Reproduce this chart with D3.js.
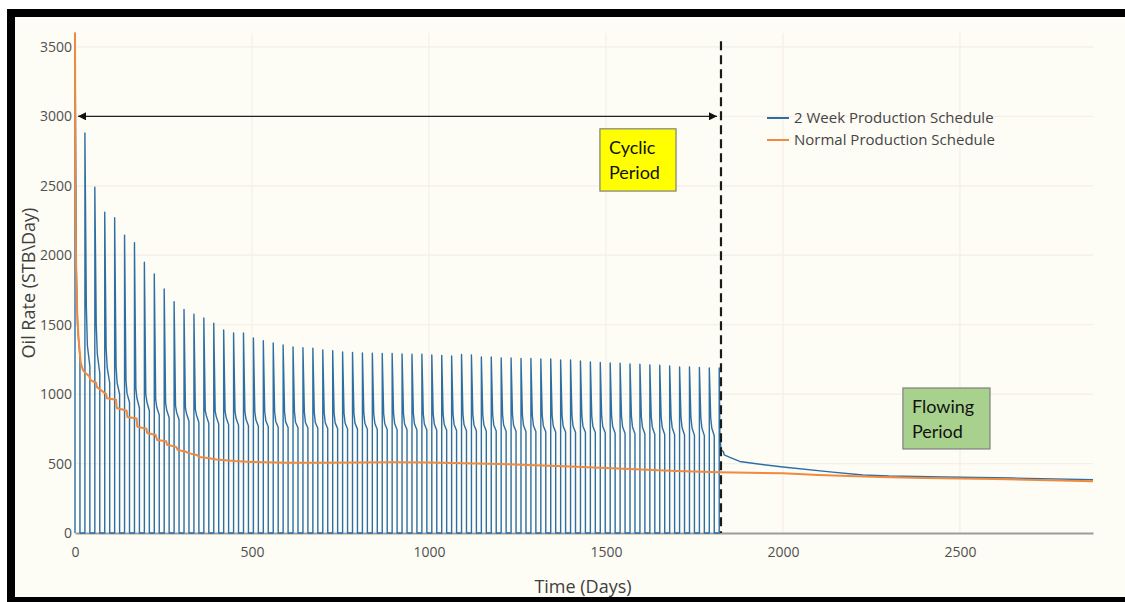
<!DOCTYPE html>
<html>
<head>
<meta charset="utf-8">
<script src="https://cdn.jsdelivr.net/npm/d3@7"></script>
<style>
  html, body { margin: 0; padding: 0; background: #ffffff; }
  svg { display: block; }
</style>
</head>
<body>
<svg id="chart" width="1125" height="602"></svg>
<script>
// ---- Schedule: 2 weeks open, 2 weeks shut-in, repeated through the cyclic period ----
const cycleLength = 28;      // days per cycle
const openDays = 14;         // days flowing in each cycle
const kneeDay = 4;           // day in cycle where the initial flush ends
const shoulderDay = 7;       // day in cycle where the rate levels off
const cyclicEndDay = 1825;   // end of the cyclic period

// Per-cycle rates for the 2 week schedule (STB/Day), cycle 0 starts at day 0
const cyclePeak = [3600, 2880, 2490, 2310, 2270, 2145, 2090, 1950, 1865, 1757,
  1665, 1610, 1575, 1548, 1510, 1462, 1440, 1440, 1404, 1385,
  1368, 1354, 1340, 1334, 1330, 1318, 1312, 1303, 1300, 1296,
  1294, 1293, 1292, 1289, 1287, 1287, 1282, 1279, 1274, 1285,
  1282, 1267, 1267, 1260, 1260, 1256, 1256, 1253, 1253, 1246,
  1246, 1238, 1231, 1228, 1224, 1222, 1217, 1215, 1210, 1208,
  1202, 1195, 1195, 1192, 1188];
const cycleKnee = [1900, 1630, 1500, 1330, 1200, 1100, 1040, 1000, 960, 935,
  915, 900, 890, 882, 878, 876, 875, 874, 874, 873,
  873, 872, 870, 868, 866, 865, 864, 863, 862, 861,
  860, 860, 859, 858, 858, 857, 856, 856, 855, 855,
  854, 853, 852, 851, 850, 849, 848, 847, 846, 845,
  844, 843, 842, 841, 840, 839, 838, 837, 836, 835,
  834, 833, 832, 831, 830];
const cycleShoulder = [1500, 1350, 1290, 1190, 1080, 1005, 970, 945, 905, 885,
  870, 860, 852, 845, 838, 832, 826, 820, 815, 810,
  805, 800, 798, 796, 795, 794, 793, 792, 791, 790,
  790, 789, 788, 787, 786, 785, 784, 783, 782, 781,
  780, 779, 778, 777, 776, 775, 774, 773, 772, 771,
  770, 769, 768, 767, 766, 765, 764, 763, 762, 761,
  760, 759, 758, 757, 756];
const cycleEnd = [1260, 1200, 1150, 1080, 1000, 940, 900, 880, 850, 830,
  815, 805, 795, 790, 785, 780, 776, 772, 768, 765,
  762, 760, 758, 756, 754, 752, 750, 749, 748, 747,
  746, 745, 744, 743, 742, 741, 740, 739, 738, 737,
  736, 735, 734, 733, 732, 731, 730, 729, 728, 727,
  726, 725, 723, 721, 719, 717, 715, 713, 711, 709,
  707, 705, 703, 701, 700];

// 2 week schedule after the cyclic period: well left open
const flowingDays = [1820, 1822, 1825, 1832, 1834, 1850, 1878, 1920, 2000, 2133, 2226, 2300, 2455, 2647, 2876];
const flowingRate = [1188, 700, 600, 585, 562, 545, 515, 500, 475, 440, 418, 410, 403, 396, 383];

// Normal production schedule (STB/Day)
const normalDays = [0, 1, 3, 6, 10, 16, 22, 30, 40, 44, 60, 62, 88, 90, 116, 118, 146, 148,
  174, 176, 202, 204, 228, 232, 258, 260, 286, 290, 314, 320, 346, 350, 376, 400,
  450, 500, 600, 700, 800, 900, 1000, 1100, 1200, 1300, 1400, 1500, 1600, 1700,
  1820, 2000, 2100, 2274, 2400, 2600, 2876];
const normalRate = [3600, 2500, 1900, 1600, 1400, 1230, 1175, 1150, 1130, 1100, 1080, 1050, 1000, 970, 960, 900, 880, 835,
  825, 765, 750, 720, 705, 670, 660, 635, 620, 598, 585, 575, 560, 547, 540, 530,
  518, 511, 505, 506, 508, 510, 507, 503, 497, 487, 478, 468, 458, 447,
  437, 430, 418, 403, 396, 388, 373];

const xTicks = [0, 500, 1000, 1500, 2000, 2500];
const yTicks = [0, 500, 1000, 1500, 2000, 2500, 3000, 3500];
const seriesNames = ["2 Week Production Schedule", "Normal Production Schedule"];
const seriesColors = ["#2d6ea5", "#ef8a3f"];

// ---- Layout ----
const svg = d3.select("#chart");
const plot = { left: 75, right: 1093, top: 33, bottom: 533 };
const x = d3.scaleLinear().domain([0, 2876]).range([plot.left, plot.right]);
const y = d3.scaleLinear().domain([0, 3600]).range([plot.bottom, plot.top]);

// Framed panel
svg.append("rect").attr("x", 11).attr("y", 13).attr("width", 1140).attr("height", 588)
  .attr("fill", "#fdfcf5").attr("stroke", "#000").attr("stroke-width", 8);

// Gridlines
const grid = svg.append("g").attr("class", "grid");
grid.selectAll("line.h").data(yTicks.filter(d => d > 0)).join("line")
  .attr("class", "h")
  .attr("x1", plot.left).attr("x2", plot.right)
  .attr("y1", d => y(d)).attr("y2", d => y(d))
  .attr("stroke", "#f6eee7").attr("stroke-width", 1.2);
grid.selectAll("line.v").data(xTicks.filter(d => d > 0)).join("line")
  .attr("class", "v")
  .attr("y1", plot.top).attr("y2", plot.bottom)
  .attr("x1", d => x(d)).attr("x2", d => x(d))
  .attr("stroke", "#f6eee7").attr("stroke-width", 1.2);

// Axes
const xAxis = d3.axisBottom(x).tickValues(xTicks).tickSize(0).tickPadding(14).tickFormat(d3.format("d"));
const yAxis = d3.axisLeft(y).tickValues(yTicks).tickSize(0).tickPadding(3).tickFormat(d3.format("d"));

const gx = svg.append("g").attr("transform", `translate(0,${plot.bottom})`).call(xAxis);
gx.select(".domain").attr("stroke", "#9c9c9c").attr("stroke-width", 2);
gx.selectAll("text").attr("font-family", "'Open Sans', sans-serif").attr("font-size", 14).attr("fill", "#505050");

const gy = svg.append("g").attr("transform", `translate(${plot.left},0)`).call(yAxis);
gy.select(".domain").remove();
gy.selectAll("text").attr("font-family", "'Open Sans', sans-serif").attr("font-size", 14).attr("fill", "#505050");

// Axis titles
svg.append("text").attr("x", 583).attr("y", 593)
  .attr("text-anchor", "middle").attr("font-family", "'Open Sans', sans-serif")
  .attr("font-size", 18).attr("fill", "#404040").text("Time (Days)");
svg.append("text")
  .attr("transform", `translate(35,${(plot.top + plot.bottom) / 2}) rotate(-90)`)
  .attr("text-anchor", "middle").attr("font-family", "'Open Sans', sans-serif")
  .attr("font-size", 18).attr("fill", "#404040").text("Oil Rate (STB\\Day)");

// ---- 2 week schedule path ----
const cyclicPoints = [];
cyclePeak.forEach((p, k) => {
  const t0 = k * cycleLength;
  cyclicPoints.push([t0, 0], [t0, p],
    [t0 + kneeDay, cycleKnee[k]],
    [t0 + shoulderDay, cycleShoulder[k]],
    [t0 + openDays, cycleEnd[k]],
    [t0 + openDays, 0]);
});
cyclicPoints.push([flowingDays[0], 0]);
flowingDays.forEach((d, i) => cyclicPoints.push([d, flowingRate[i]]));

const line = d3.line().x(d => x(d[0])).y(d => y(d[1]));

svg.append("path").datum(cyclicPoints)
  .attr("d", line).attr("fill", "none")
  .attr("stroke", seriesColors[0]).attr("stroke-width", 1.4).attr("stroke-linejoin", "round");

// ---- Normal schedule path ----
const normalPoints = normalDays.map((d, i) => [d, normalRate[i]]);
svg.append("path").datum(normalPoints)
  .attr("d", line).attr("fill", "none")
  .attr("stroke", seriesColors[1]).attr("stroke-width", 2).attr("stroke-linejoin", "round");

// ---- Cyclic period annotations ----
const defs = svg.append("defs");
defs.append("marker").attr("id", "arrowHead")
  .attr("viewBox", "0 0 10 10").attr("refX", 10).attr("refY", 5)
  .attr("markerWidth", 8).attr("markerHeight", 8).attr("markerUnits", "userSpaceOnUse")
  .attr("orient", "auto-start-reverse")
  .append("path").attr("d", "M0,0 L10,5 L0,10 Z").attr("fill", "#111");

svg.append("line")
  .attr("x1", x(0) + 3).attr("x2", x(cyclicEndDay) - 4)
  .attr("y1", y(3000)).attr("y2", y(3000))
  .attr("stroke", "#222").attr("stroke-width", 1.3)
  .attr("marker-start", "url(#arrowHead)").attr("marker-end", "url(#arrowHead)");

svg.append("line")
  .attr("x1", x(cyclicEndDay)).attr("x2", x(cyclicEndDay))
  .attr("y1", y(3540)).attr("y2", y(0))
  .attr("stroke", "#1a1a1a").attr("stroke-width", 2.2).attr("stroke-dasharray", "9,5");

// Period labels
const periodBoxes = [
  { lines: ["Cyclic", "Period"], d0: 1483, d1: 1698, r0: 2462, r1: 2910, fill: "#ffff00" },
  { lines: ["Flowing", "Period"], d0: 2339, d1: 2585, r0: 605, r1: 1044, fill: "#a9d18e" }
];
periodBoxes.forEach(b => {
  const g = svg.append("g");
  g.append("rect")
    .attr("x", x(b.d0)).attr("y", y(b.r1))
    .attr("width", x(b.d1) - x(b.d0)).attr("height", y(b.r0) - y(b.r1))
    .attr("fill", b.fill).attr("stroke", "#7f7f7f").attr("stroke-width", 1.2);
  b.lines.forEach((t, i) => {
    g.append("text")
      .attr("x", x(b.d0) + 9)
      .attr("y", y(b.r1) + 25 + i * 25)
      .attr("font-family", "Lato, 'Open Sans', sans-serif")
      .attr("font-size", 18).attr("fill", "#111").text(t);
  });
});

// ---- Legend ----
const legend = svg.append("g").attr("transform", "translate(767,118)");
seriesNames.forEach((name, i) => {
  const row = legend.append("g").attr("transform", `translate(0,${i * 22})`);
  row.append("line").attr("x1", 0).attr("x2", 22).attr("y1", 0).attr("y2", 0)
    .attr("stroke", seriesColors[i]).attr("stroke-width", 2);
  row.append("text").attr("x", 27).attr("y", 0).attr("dy", "0.35em")
    .attr("font-family", "'Open Sans', sans-serif").attr("font-size", 15)
    .attr("fill", "#454545").text(name);
});
</script>
</body>
</html>
